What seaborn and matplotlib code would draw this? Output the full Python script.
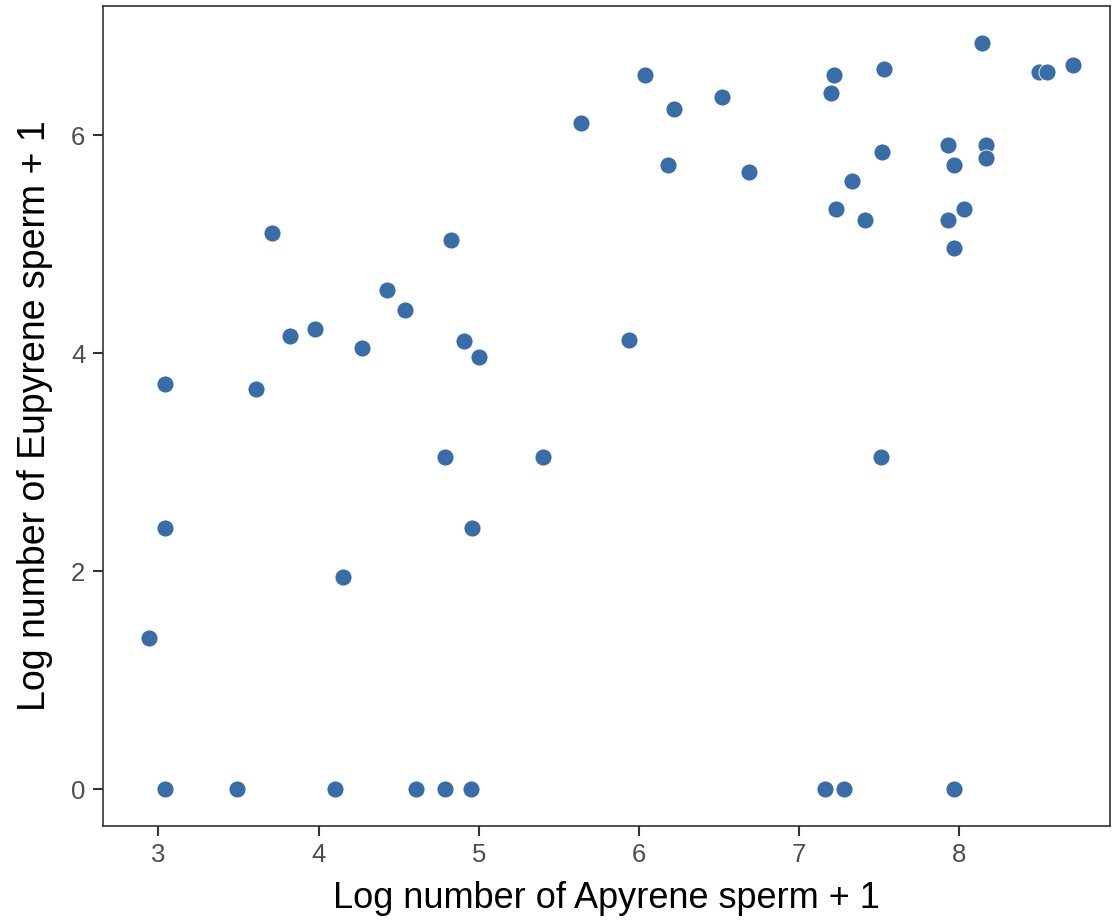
import seaborn as sns
import matplotlib.pyplot as plt
import pandas as pd

# Values
apyrene = [3.04, 3.61, 3.71, 3.82, 3.98, 4.27, 4.43, 4.54, 4.83, 4.91, 5.00,
           5.64, 6.04, 6.22, 6.18, 6.52, 6.69, 7.22, 7.20, 7.33, 7.23, 7.41, 5.94,
           7.53, 7.52, 8.14, 8.50, 8.55, 8.71, 7.93, 7.97, 8.17, 8.17, 8.03, 7.93, 7.97,
           4.79, 5.40, 3.04, 4.96, 4.15, 2.94,
           3.04, 3.49, 4.10, 4.61, 4.79, 4.95,
           7.51, 7.16, 7.28, 7.97]
eupyrene = [3.72, 3.67, 5.10, 4.16, 4.22, 4.05, 4.58, 4.40, 5.04, 4.11, 3.97,
            6.11, 6.55, 6.24, 5.73, 6.35, 5.66, 6.55, 6.39, 5.58, 5.32, 5.22, 4.12,
            6.61, 5.85, 6.85, 6.58, 6.58, 6.64, 5.91, 5.73, 5.91, 5.79, 5.32, 5.22, 4.97,
            3.05, 3.05, 2.40, 2.40, 1.95, 1.39,
            0, 0, 0, 0, 0, 0,
            3.05, 0, 0, 0]

df = pd.DataFrame({'Apyrene': apyrene, 'Eupyrene': eupyrene})

sns.set_style("white")
plt.rcParams['font.family'] = ['Liberation Sans', 'DejaVu Sans']

fig, ax = plt.subplots(figsize=(11.12, 9.24), dpi=100)
fig.subplots_adjust(left=0.093, right=0.998, bottom=0.106, top=0.994)

sns.scatterplot(data=df, x='Apyrene', y='Eupyrene', ax=ax,
                color='#3A6CA6', s=150, edgecolor='white', linewidth=0.6)

ax.set_xlim(2.657, 8.94)
ax.set_ylim(-0.337, 7.19)
ax.set_xticks([3, 4, 5, 6, 7, 8])
ax.set_yticks([0, 2, 4, 6])

for sp in ax.spines.values():
    sp.set_color('#333333')
    sp.set_linewidth(1.2)

ax.tick_params(axis='both', length=7, width=1.5, color='#333333', pad=5,
               labelsize=18.5, labelcolor='#4D4D4D', direction='out',
               bottom=True, left=True)
ax.tick_params(axis='y', pad=6)

ax.set_xlabel('Log number of Apyrene sperm + 1', fontsize=26, color='black', labelpad=10)
ax.set_ylabel('Log number of Eupyrene sperm + 1', fontsize=27, color='black', labelpad=13)

plt.savefig('out.png', dpi=100)
